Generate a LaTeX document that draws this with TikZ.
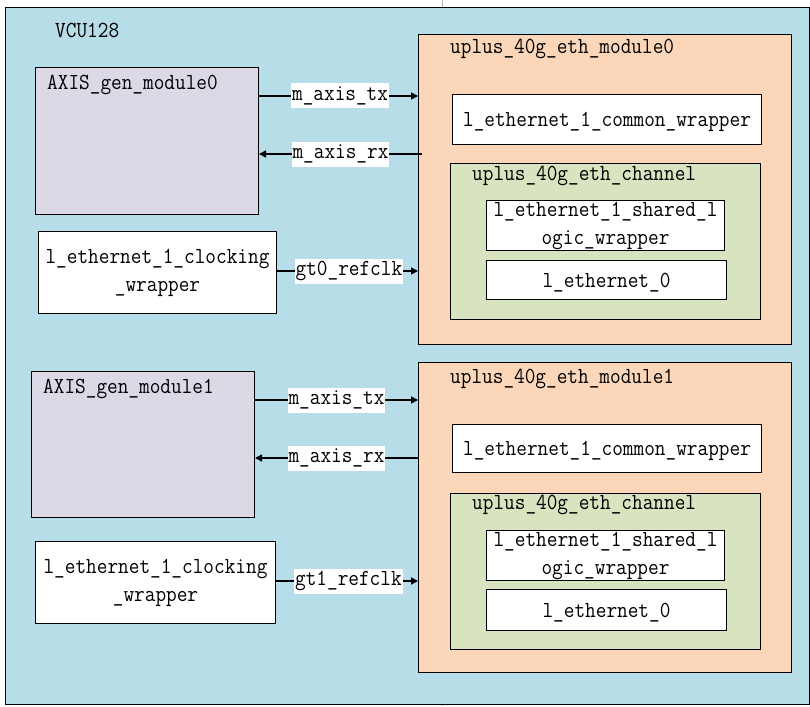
\documentclass[tikz,border=0pt]{standalone}
\usepackage{fontspec}
\setmonofont{Latin Modern Mono}[FakeStretch=0.9]
\usetikzlibrary{arrows.meta}
\definecolor{bgblue}{HTML}{B7DDE8}
\definecolor{lav}{HTML}{DDD8E6}
\definecolor{peach}{HTML}{FBD6B8}
\definecolor{sage}{HTML}{D8E4BF}
\tikzset{
  blk/.style={draw=black, line width=1pt, anchor=north west, inner sep=0pt, text depth=0pt},
  ttl/.style={anchor=west, inner sep=0pt, yshift=-2pt},
  lbl/.style={fill=white, inner xsep=1pt, inner ysep=0pt, minimum height=25pt},
  arr/.style={line width=1.6pt, -{Triangle[length=7pt,width=7pt]}},
  txt/.style={align=center, text depth=4pt, font=\ttfamily\fontsize{23}{27.5}\selectfont}
}
\begin{document}
\begin{tikzpicture}[x=1pt,y=-1pt, font=\ttfamily\fontsize{23}{27.5}\selectfont]
\useasboundingbox (0,0) rectangle (810,706);
\draw[gray!60, line width=0.6pt] (442.5,0) -- (442.5,7) (442.5,704) -- (442.5,706);
\node[blk, fill=bgblue, minimum width=804pt, minimum height=697pt] (vcu) at (5,7) {};
\node[ttl] (vcut) at (55,28) {VCU128};

% ---------- upper half ----------
\node[blk, fill=lav, minimum width=223pt, minimum height=147pt] (ag0) at (35,67) {};
\node[ttl] (ag0t) at (47,83) {AXIS\_gen\_module0};
\node[blk, fill=white, minimum width=238pt, minimum height=82pt, txt] (ck0) at (38,231) {l\_ethernet\_1\_clocking\\\_wrapper};

\node[blk, fill=peach, minimum width=373pt, minimum height=310pt] (m0) at (418,34) {};
\node[ttl] (m0t) at (450,47) {uplus\_40g\_eth\_module0};
\node[blk, fill=white, minimum width=309pt, minimum height=50pt] (cw0) at (452,94) {l\_ethernet\_1\_common\_wrapper};
\node[blk, fill=sage, minimum width=310pt, minimum height=156pt] (ch0) at (450,163) {};
\node[ttl] (ch0t) at (472,174) {uplus\_40g\_eth\_channel};
\node[blk, fill=white, minimum width=238pt, minimum height=50pt, txt] (sl0) at (486,200) {l\_ethernet\_1\_shared\_l\\ogic\_wrapper};
\node[blk, fill=white, minimum width=240pt, minimum height=39pt] (e0) at (486,260) {l\_ethernet\_0};

\coordinate (ytx0) at (0,96);
\coordinate (yrx0) at (0,154);
\coordinate (ygt0) at (0,271);
\draw[arr] (ag0.east |- ytx0) -- (m0.west |- ytx0) node[lbl, pos=0.51] {m\_axis\_tx};
\draw[arr] ([xshift=4pt]m0.west |- yrx0) -- (ag0.east |- yrx0) node[lbl, pos=0.5] {m\_axis\_rx};
\draw[arr] (ck0.east |- ygt0) -- (m0.west |- ygt0) node[lbl, pos=0.51] {gt0\_refclk};

% ---------- lower half ----------
\node[blk, fill=lav, minimum width=223pt, minimum height=146pt] (ag1) at (31,371) {};
\node[ttl] (ag1t) at (43,387) {AXIS\_gen\_module1};
\node[blk, fill=white, minimum width=240pt, minimum height=82pt, txt] (ck1) at (35,541) {l\_ethernet\_1\_clocking\\\_wrapper};

\node[blk, fill=peach, minimum width=373pt, minimum height=310pt] (m1) at (418,362) {};
\node[ttl] (m1t) at (450,377) {uplus\_40g\_eth\_module1};
\node[blk, fill=white, minimum width=309pt, minimum height=48pt] (cw1) at (452,424) {l\_ethernet\_1\_common\_wrapper};
\node[blk, fill=sage, minimum width=310pt, minimum height=156pt] (ch1) at (450,493) {};
\node[ttl] (ch1t) at (472,503) {uplus\_40g\_eth\_channel};
\node[blk, fill=white, minimum width=238pt, minimum height=50pt, txt] (sl1) at (486,530) {l\_ethernet\_1\_shared\_l\\ogic\_wrapper};
\node[blk, fill=white, minimum width=240pt, minimum height=41pt] (e1) at (486,589) {l\_ethernet\_0};

\coordinate (ytx1) at (0,400);
\coordinate (yrx1) at (0,458);
\coordinate (ygt1) at (0,581);
\draw[arr] (ag1.east |- ytx1) -- (m1.west |- ytx1) node[lbl, pos=0.5] {m\_axis\_tx};
\draw[arr] (m1.west |- yrx1) -- (ag1.east |- yrx1) node[lbl, pos=0.5] {m\_axis\_rx};
\draw[arr] (ck1.east |- ygt1) -- (m1.west |- ygt1) node[lbl, pos=0.51] {gt1\_refclk};
\end{tikzpicture}
\end{document}
